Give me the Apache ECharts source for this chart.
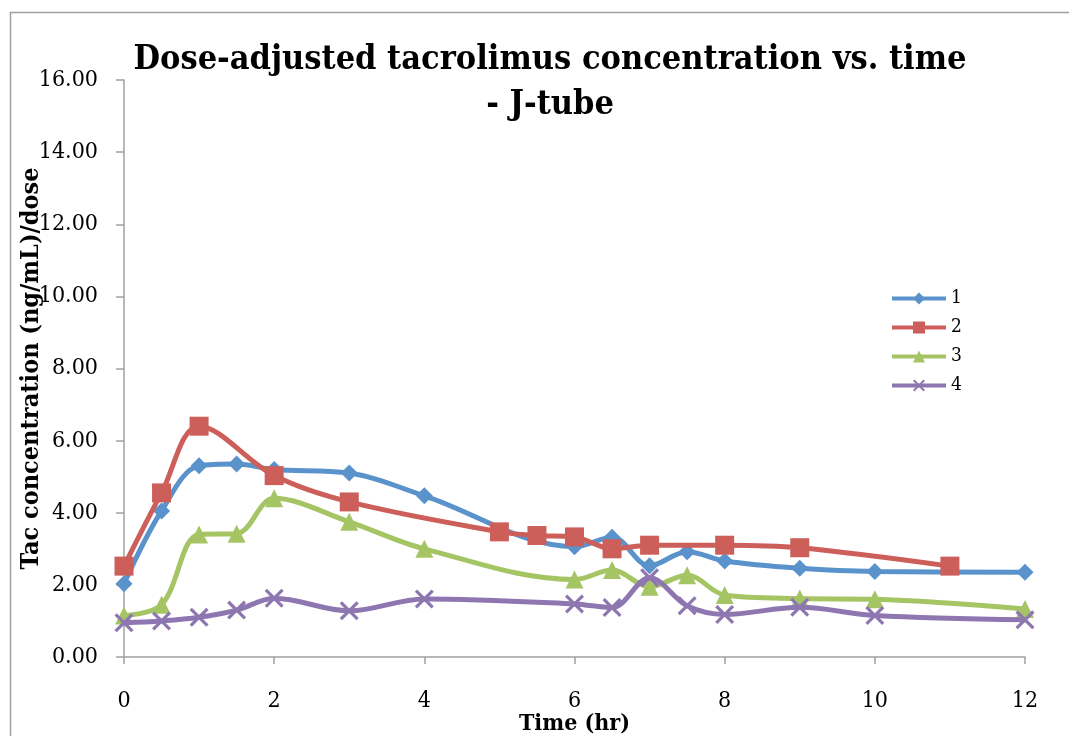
<!DOCTYPE html>
<html>
<head>
<meta charset="utf-8">
<script src="https://cdn.jsdelivr.net/npm/echarts@6/dist/echarts.min.js"></script>
<style>html,body{margin:0;padding:0;background:#fff;}#c{width:1069px;height:736px;}</style>
</head>
<body>
<div id="c"></div>
<script>
var seriesNames = ['1', '2', '3', '4'];
var t1 = [0, 0.5, 1, 1.5, 2, 3, 4, 6, 6.5, 7, 7.5, 8, 9, 10, 12];
var v1 = [2.03, 4.05, 5.3, 5.35, 5.2, 5.1, 4.47, 3.06, 3.32, 2.53, 2.92, 2.66, 2.46, 2.37, 2.35];
var t2 = [0, 0.5, 1, 2, 3, 5, 5.5, 6, 6.5, 7, 8, 9, 11];
var v2 = [2.52, 4.55, 6.4, 5.03, 4.3, 3.47, 3.37, 3.33, 3.0, 3.1, 3.1, 3.03, 2.52];
var t3 = [0, 0.5, 1, 1.5, 2, 3, 4, 6, 6.5, 7, 7.5, 8, 9, 10, 12];
var v3 = [1.15, 1.45, 3.4, 3.42, 4.4, 3.75, 3.0, 2.15, 2.41, 1.95, 2.27, 1.72, 1.62, 1.6, 1.33];
var t4 = [0, 0.5, 1, 1.5, 2, 3, 4, 6, 6.5, 7, 7.5, 8, 9, 10, 12];
var v4 = [0.95, 1.0, 1.1, 1.3, 1.63, 1.28, 1.61, 1.47, 1.37, 2.2, 1.42, 1.18, 1.38, 1.15, 1.03];
var yTicks = ['0.00','2.00','4.00','6.00','8.00','10.00','12.00','14.00','16.00'];

function pairs(t, v) { return t.map(function (x, i) { return [x, v[i]]; }); }

var colors = ['#5A92CB', '#CD5F5A', '#A5C564', '#8E76B0'];
var xPath = 'path://M0,1.2 L1.2,0 L10,8.8 L8.8,10 Z M8.8,0 L10,1.2 L1.2,10 L0,8.8 Z';
var symbols = ['diamond', 'rect', 'triangle', xPath];
var sizes = [17, 19, 18, 19];
var datas = [pairs(t1, v1), pairs(t2, v2), pairs(t3, v3), pairs(t4, v4)];
var serif = '"DejaVu Serif Condensed", "Liberation Serif", serif';

var chart = echarts.init(document.getElementById('c'));
chart.setOption({
  animation: false,
  color: colors,
  graphic: [{
    type: 'rect',
    shape: { x: 10.5, y: 12.5, width: 1200, height: 900 },
    style: { fill: 'none', stroke: '#a0a0a0', lineWidth: 1.5 },
    silent: true, z: -10
  }],
  title: {
    text: 'Dose-adjusted tacrolimus concentration vs. time\n- J-tube',
    left: 545, top: 33, textAlign: 'center',
    textStyle: { fontFamily: serif, fontWeight: 'bold', fontSize: 34, lineHeight: 45, color: '#000' }
  },
  legend: {
    orient: 'vertical',
    left: 885, top: 284,
    itemWidth: 54, itemHeight: 15, itemGap: 10,
    lineStyle: { width: 4 },
    textStyle: { fontFamily: serif, fontSize: 19, lineHeight: 15, color: '#000' },
    data: seriesNames
  },
  grid: { left: 124, right: 44, top: 80, bottom: 79, outerBoundsMode: 'none', containLabel: false },
  xAxis: {
    type: 'value', min: 0, max: 12, interval: 2,
    name: 'Time (hr)', nameLocation: 'middle', nameGap: 56, nameMoveOverlap: false,
    nameTextStyle: { fontFamily: serif, fontWeight: 'bold', fontSize: 23, color: '#000' },
    axisLine: { lineStyle: { color: '#a0a0a0', width: 1.5 } },
    axisTick: { show: true, length: 7, lineStyle: { color: '#a0a0a0', width: 1.5 } },
    axisLabel: { fontFamily: serif, fontSize: 23, color: '#000', margin: 33 },
    splitLine: { show: false }
  },
  yAxis: {
    type: 'value', min: 0, max: 16, interval: 2,
    name: 'Tac concentration (ng/mL)/dose', nameLocation: 'middle', nameGap: 80, nameMoveOverlap: false,
    nameTextStyle: { fontFamily: serif, fontWeight: 'bold', fontSize: 25, color: '#000' },
    axisLine: { show: true, lineStyle: { color: '#a0a0a0', width: 1.5 } },
    axisTick: { show: true, length: 8, lineStyle: { color: '#a0a0a0', width: 1.5 } },
    axisLabel: { fontFamily: serif, fontSize: 23, color: '#000', margin: 26,
      formatter: function (v) { return yTicks[Math.round(v / 2)]; } },
    splitLine: { show: false }
  },
  series: seriesNames.map(function (n, i) {
    return {
      name: n, type: 'line', data: datas[i], smooth: 0.35,
      symbol: symbols[i], symbolSize: sizes[i], showAllSymbol: true,
      lineStyle: { width: 5, color: colors[i] },
      itemStyle: { color: colors[i] },
      z: 2 + i
    };
  })
});
</script>
</body>
</html>
